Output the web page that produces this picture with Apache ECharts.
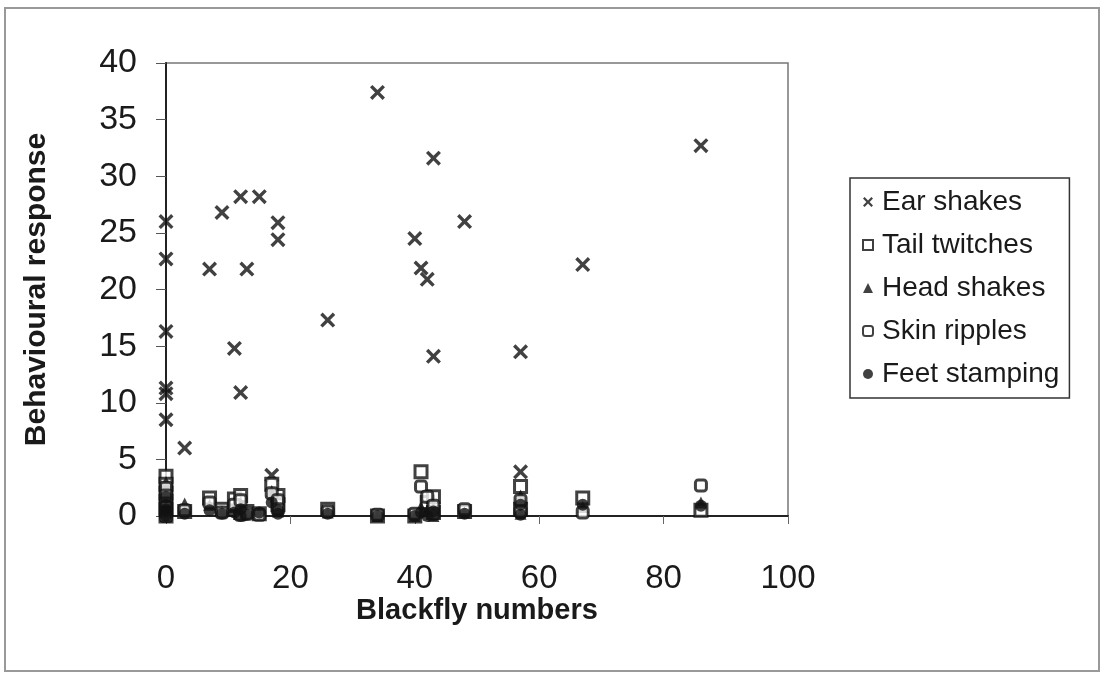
<!DOCTYPE html>
<html>
<head>
<meta charset="utf-8">
<script src="https://cdn.jsdelivr.net/npm/echarts@6/dist/echarts.min.js"></script>
<style>
  html, body { margin: 0; padding: 0; background: #fff; }
  #chart { width: 1103px; height: 674px; }
</style>
</head>
<body>
<div id="chart"></div>
<script>
// blackfly count for each observation (same x for every behaviour)
const blackfly = [0, 0, 0, 0, 0, 0, 3, 7, 9, 11, 12, 12, 13, 15, 17, 18, 18, 26, 34, 40, 41, 42, 43, 43, 48, 57, 57, 67, 86]

const earShakes = [26.0, 22.7, 16.3, 11.3, 10.8, 8.5, 6.0, 21.8, 26.8, 14.8, 28.2, 10.9, 21.8, 28.2, 3.6, 25.9, 24.4, 17.3, 37.4, 24.5, 21.9, 20.9, 31.6, 14.1, 26.0, 14.5, 3.9, 22.2, 32.7]
const tailTwitches = [3.5, 2.8, 2.0, 1.3, 0.6, 0.0, 0.4, 1.6, 0.6, 1.5, 1.8, 0.3, 0.4, 0.2, 2.8, 1.8, 1.0, 0.6, 0.0, 0.0, 3.9, 1.2, 1.7, 0.3, 0.4, 2.6, 0.6, 1.6, 0.5]
const headShakes = [3.0, 1.5, 1.0, 0.5, 0.2, 0.0, 1.1, 1.0, 0.4, 0.8, 1.2, 0.2, 0.3, 0.3, 2.2, 0.8, 0.4, 0.3, 0.0, 0.0, 0.8, 0.5, 0.5, 0.0, 0.3, 1.8, 0.2, 0.8, 1.2]
const skinRipples = [2.5, 1.8, 1.1, 0.8, 0.3, 0.0, 0.5, 1.2, 0.3, 1.0, 1.4, 0.1, 0.2, 0.1, 2.0, 1.4, 0.6, 0.4, 0.1, 0.2, 2.6, 1.7, 0.9, 0.2, 0.6, 1.4, 0.4, 0.3, 2.7]
const feetStamping = [1.7, 1.0, 0.6, 0.4, 0.1, 0.0, 0.2, 0.5, 0.2, 0.3, 0.6, 0.0, 0.1, 0.3, 1.2, 0.5, 0.2, 0.2, 0.0, 0.0, 0.3, 0.0, 0.4, 0.1, 0.2, 1.0, 0.1, 1.0, 0.9]

const xTicks = [0, 20, 40, 60, 80, 100]
const yTicks = [0, 5, 10, 15, 20, 25, 30, 35, 40]

const pairs = (vals) => blackfly.map((x, i) => [x, vals[i]])

// bold "x" marker with thick arms
const crossSymbol = 'path://M0,1.6 L1.6,0 L5,3.4 L8.4,0 L10,1.6 L6.6,5 L10,8.4 L8.4,10 L5,6.6 L1.6,10 L0,8.4 L3.4,5 Z'

const chart = echarts.init(document.getElementById('chart'))

const option = {
  backgroundColor: '#fff',
  animation: false,
  textStyle: { fontFamily: 'Liberation Sans, Arial, sans-serif', color: '#1a1a1a' },
  graphic: [{
    type: 'rect',
    shape: { x: 5, y: 8, width: 1094, height: 663 },
    style: { fill: 'none', stroke: '#999', lineWidth: 2 },
    silent: true
  }],
  grid: {
    left: 166,
    top: 63,
    right: 315,
    bottom: 158,
    outerBoundsMode: 'none',
    show: true,
    borderColor: '#777',
    borderWidth: 1.5
  },
  legend: {
    orient: 'vertical',
    left: 850,
    top: 178,
    padding: [10, 10, 10, 12],
    itemGap: 15,
    itemWidth: 10,
    itemHeight: 10,
    borderColor: '#333',
    borderWidth: 1.5,
    textStyle: { fontSize: 28, color: '#1a1a1a', padding: [0, 0, 0, 4] },
    data: ['Ear shakes', 'Tail twitches', 'Head shakes', 'Skin ripples', 'Feet stamping']
  },
  xAxis: {
    type: 'value',
    min: xTicks[0],
    max: xTicks[xTicks.length - 1],
    interval: 20,
    name: 'Blackfly numbers',
    nameLocation: 'middle',
    nameGap: 80,
    nameMoveOverlap: false,
    nameTextStyle: { fontSize: 29, fontWeight: 'bold', color: '#1a1a1a' },
    axisLine: { lineStyle: { color: '#222', width: 2 } },
    axisTick: { show: true, length: 8, lineStyle: { color: '#666' } },
    axisLabel: { fontSize: 33, margin: 46, color: '#1a1a1a' },
    splitLine: { show: false }
  },
  yAxis: {
    type: 'value',
    min: yTicks[0],
    max: yTicks[yTicks.length - 1],
    interval: 5,
    name: 'Behavioural response',
    nameLocation: 'middle',
    nameGap: 114,
    nameMoveOverlap: false,
    nameTextStyle: { fontSize: 30, fontWeight: 'bold', color: '#1a1a1a' },
    axisLine: { show: true, lineStyle: { color: '#222', width: 2 } },
    axisTick: { show: true, length: 10, lineStyle: { color: '#555' } },
    axisLabel: { fontSize: 34, margin: 29, color: '#1a1a1a' },
    splitLine: { show: false }
  },
  series: [
    {
      name: 'Ear shakes',
      type: 'scatter',
      symbol: crossSymbol,
      symbolSize: 15,
      itemStyle: { color: '#111' },
      data: pairs(earShakes)
    },
    {
      name: 'Tail twitches',
      type: 'scatter',
      symbol: 'rect',
      symbolSize: 12,
      itemStyle: { color: '#fff', borderColor: '#111', borderWidth: 3 },
      data: pairs(tailTwitches)
    },
    {
      name: 'Head shakes',
      type: 'scatter',
      symbol: 'triangle',
      symbolSize: 12,
      itemStyle: { color: '#111' },
      data: pairs(headShakes)
    },
    {
      name: 'Skin ripples',
      type: 'scatter',
      symbol: 'roundRect',
      symbolSize: 11,
      itemStyle: { color: '#fff', borderColor: '#111', borderWidth: 3 },
      data: pairs(skinRipples)
    },
    {
      name: 'Feet stamping',
      type: 'scatter',
      symbol: 'circle',
      symbolSize: 12,
      itemStyle: { color: '#111' },
      data: pairs(feetStamping)
    }
  ]
}

chart.setOption(option)
</script>
</body>
</html>
